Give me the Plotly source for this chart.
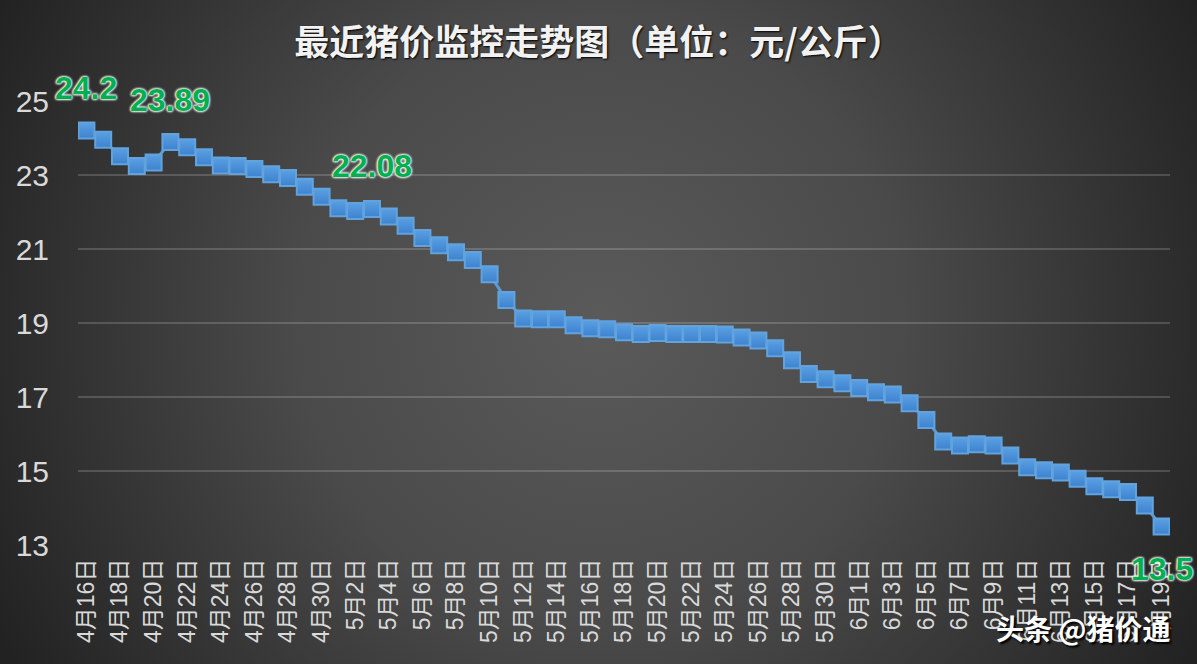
import base64
import plotly.graph_objects as go

# ---------------- data ----------------
months = [4] * 15 + [5] * 31 + [6] * 19
days = list(range(16, 31)) + list(range(1, 32)) + list(range(1, 20))
dates = [f"{m}月{d}日" for m, d in zip(months, days)]

prices = [24.2, 23.95, 23.51, 23.24, 23.34, 23.89, 23.75, 23.48, 23.26, 23.24,
          23.16, 23.02, 22.92, 22.68, 22.41, 22.10, 22.03, 22.08, 21.88, 21.63,
          21.30, 21.10, 20.91, 20.70, 20.32, 19.62, 19.12, 19.10, 19.10, 18.94,
          18.86, 18.83, 18.75, 18.70, 18.73, 18.70, 18.70, 18.70, 18.69, 18.61,
          18.53, 18.32, 17.99, 17.62, 17.48, 17.37, 17.24, 17.13, 17.07, 16.83,
          16.38, 15.80, 15.69, 15.72, 15.69, 15.42, 15.10, 15.02, 14.96, 14.79,
          14.59, 14.51, 14.43, 14.07, 13.5]

# labelled points: (index, label text, vertical shift in px)
label_points = [0, 5, 17, 64]
label_texts = ["24.2", "23.89", "22.08", "13.5"]
label_shifts = [43, 42, 43, -42]

y_ticks = [13, 15, 17, 19, 21, 23, 25]
x_ticks = dates[::2]

title_text = "最近猪价监控走势图（单位：元/公斤）"
watermark = "头条 @猪价通"

# ---------------- background gradient ----------------
W, H = 1197, 664
svg = f'''<svg xmlns="http://www.w3.org/2000/svg" width="{W}" height="{H}">
<defs><radialGradient id="g" gradientUnits="userSpaceOnUse" cx="600" cy="320" r="680">
<stop offset="0%" stop-color="#5a5a5a"/>
<stop offset="45%" stop-color="#4a4a4a"/>
<stop offset="100%" stop-color="#222222"/>
</radialGradient></defs>
<rect width="{W}" height="{H}" fill="url(#g)"/></svg>'''
src = "data:image/svg+xml;base64," + base64.b64encode(svg.encode()).decode()

ml, mr, mt, mb = 78, 27, 101, 119
pw, ph = W - ml - mr, H - mt - mb

fig = go.Figure()
fig.add_trace(go.Scatter(
    x=dates, y=prices, mode="lines+markers",
    line=dict(color="#5b9bd5", width=3),
    marker=dict(symbol="square", size=16, color="#5aa0e2",
                gradient=dict(type="vertical", color="#3d82cf"),
                line=dict(color="#62a3de", width=2)),
    hoverinfo="x+y", showlegend=False,
))

glow = "0 0 3px #ffffff, 0 0 3px #ffffff, 0 0 2px #ffffff, 0 0 2px #ffffff"
annotations = []
for idx, txt, sh in zip(label_points, label_texts, label_shifts):
    annotations.append(dict(
        x=dates[idx], y=prices[idx], xref="x", yref="y", text=txt,
        showarrow=False, yshift=sh,
        font=dict(family="Liberation Sans, Arial", size=32, color="#00b050",
                  weight="bold", shadow=glow),
    ))
annotations.append(dict(
    x=(1083 - ml) / pw, y=(H - 628 - mb) / ph, xref="paper", yref="paper",
    text=watermark, showarrow=False, xanchor="center", yanchor="middle",
    font=dict(family="Noto Sans CJK SC", size=28, color="#ffffff", weight="bold",
              shadow="2px 2px 2px #000000"),
))

fig.update_layout(
    width=W, height=H,
    margin=dict(l=ml, r=mr, t=mt, b=mb, autoexpand=False),
    paper_bgcolor="#3a3a3a", plot_bgcolor="rgba(0,0,0,0)",
    images=[dict(source=src, xref="paper", yref="paper",
                 x=-ml / pw, y=1 + mt / ph, sizex=W / pw, sizey=H / ph,
                 xanchor="left", yanchor="top", sizing="stretch", layer="below")],
    title=dict(text=title_text, x=0.5, xref="container", xanchor="center",
               y=1 - 43 / H, yref="container", yanchor="middle",
               font=dict(family="Noto Sans CJK SC", size=35, color="#f2f2f2",
                         weight="bold", shadow="1px 1px 2px #000000")),
    xaxis=dict(type="category", range=[-0.5, len(dates) - 0.5], autorange=False,
               tickvals=x_ticks, ticktext=x_ticks,
               tickangle=-90, showgrid=False, zeroline=False, showline=False,
               ticks="", ticklabelstandoff=8,
               tickfont=dict(family="Liberation Sans, Noto Sans CJK SC", size=23,
                             color="#d9d9d9")),
    yaxis=dict(range=[13, 25], autorange=False, tickvals=y_ticks, showgrid=True,
               gridcolor="rgba(255,255,255,0.17)", gridwidth=2,
               zeroline=False, showline=False, ticks="", ticklabelstandoff=28,
               tickfont=dict(family="Liberation Sans, Arial", size=30, color="#d9d9d9")),
    annotations=annotations,
)

fig.write_html("out.html")
